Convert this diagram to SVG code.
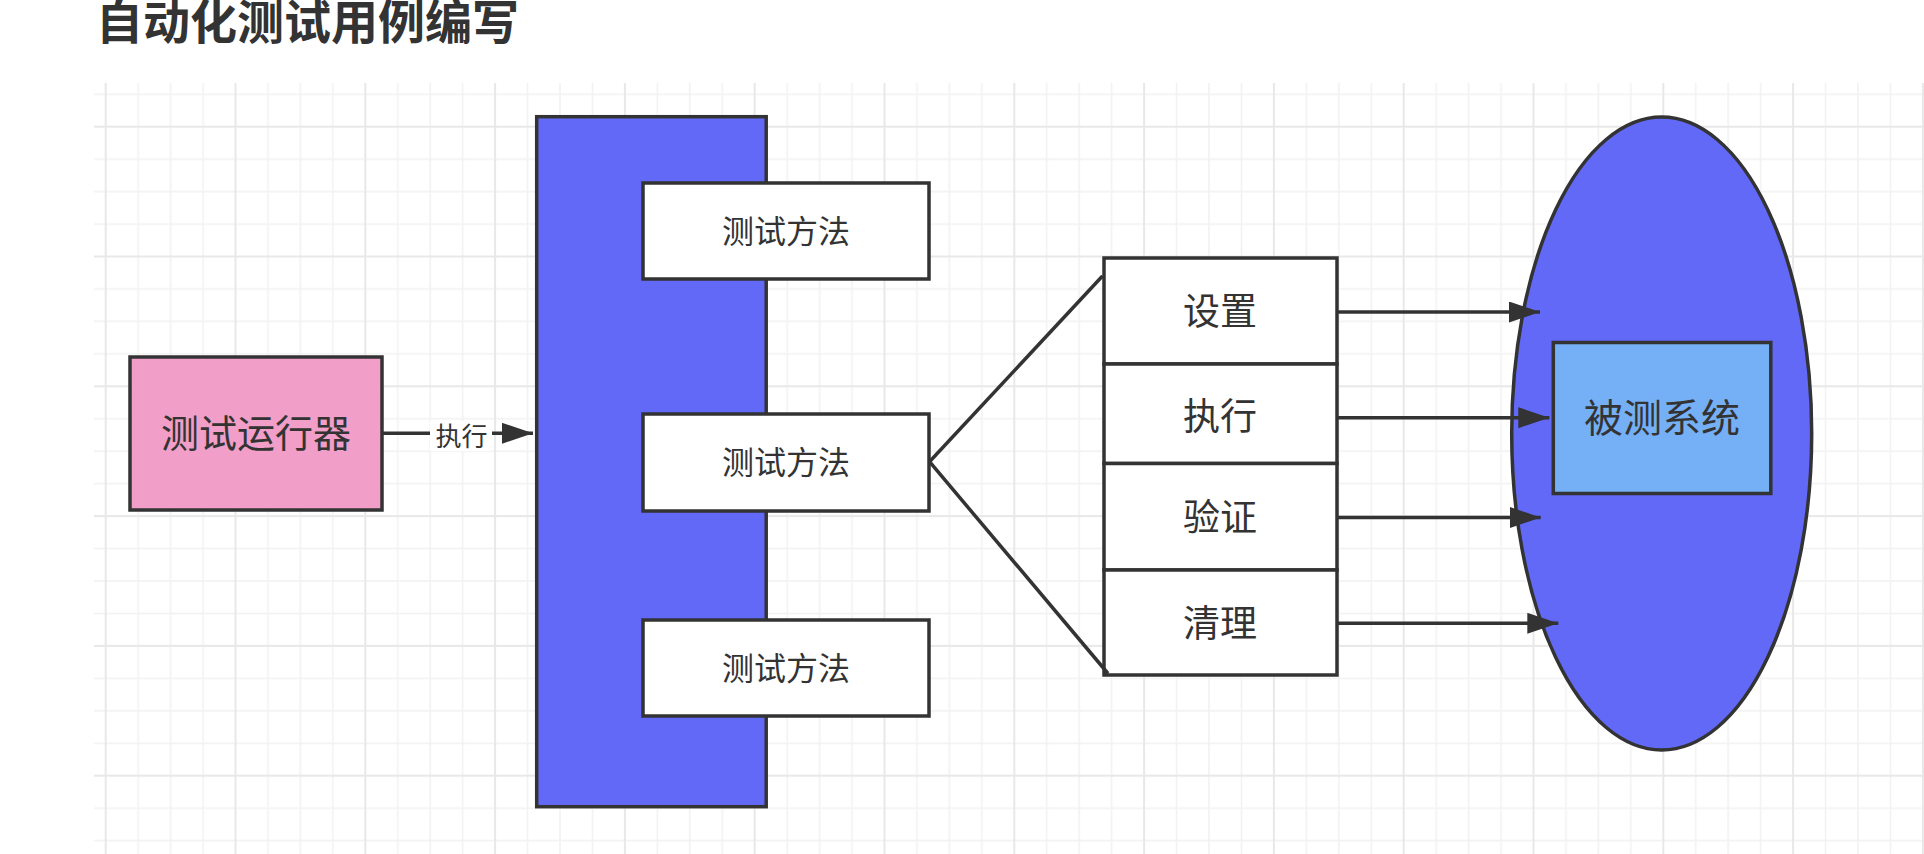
<svg xmlns="http://www.w3.org/2000/svg" width="1924" height="854" viewBox="0 0 1924 854">
<style>
.t{font-family:"Noto Sans CJK SC","Noto Sans",sans-serif;fill:#333;text-anchor:middle}
.box{stroke:#333;stroke-width:3.5}
.ln{stroke:#333;stroke-width:3.5;fill:none}
</style>
<defs>
<pattern id="grid" patternUnits="userSpaceOnUse" x="104.7" y="125.7" width="129.8" height="129.8">
<g fill="#f2f2f2">
<rect x="32.7" y="0" width="1.6" height="129.8"/>
<rect x="65.1" y="0" width="1.6" height="129.8"/>
<rect x="97.6" y="0" width="1.6" height="129.8"/>
<rect x="0" y="32.7" width="129.8" height="1.6"/>
<rect x="0" y="65.1" width="129.8" height="1.6"/>
<rect x="0" y="97.6" width="129.8" height="1.6"/>
</g>
<g fill="#e8e8e8">
<rect x="0" y="0" width="2" height="129.8"/>
<rect x="0" y="0" width="129.8" height="2"/>
</g>
</pattern>
<marker id="ah" markerUnits="userSpaceOnUse" markerWidth="32" markerHeight="22" refX="31" refY="10.5" orient="auto">
<path d="M0,0 L31,10.5 L0,21 Z" fill="#333"/>
</marker>
</defs>
<rect width="1924" height="854" fill="#fff"/>
<rect x="94" y="83" width="1830" height="771" fill="url(#grid)"/>
<text class="t" x="96" y="38.5" style="text-anchor:start;font-weight:bold;font-size:47px">自动化测试用例编写</text>

<g id="runner">
<rect class="box" x="130" y="357" width="252" height="153" fill="#f19ec8"/>
<text class="t" x="256" y="447" font-size="38">测试运行器</text>
</g>

<g id="testclass">
<rect class="box" x="536.7" y="116.7" width="229.5" height="690" fill="#6269f6"/>
</g>
<g id="method1">
<rect class="box" x="643" y="183" width="286" height="96" fill="#fff"/>
<text class="t" x="786" y="243" font-size="32">测试方法</text>
</g>
<g id="method2">
<rect class="box" x="643" y="414" width="286" height="97" fill="#fff"/>
<text class="t" x="786" y="474" font-size="32">测试方法</text>
</g>
<g id="method3">
<rect class="box" x="643" y="620" width="286" height="96" fill="#fff"/>
<text class="t" x="786" y="680" font-size="32">测试方法</text>
</g>

<g id="step-setup">
<rect class="box" x="1104" y="258" width="233" height="106" fill="#fff"/>
<text class="t" x="1220" y="325" font-size="37">设置</text>
</g>
<g id="step-exec">
<rect class="box" x="1104" y="364" width="233" height="99.5" fill="#fff"/>
<text class="t" x="1220" y="430" font-size="37">执行</text>
</g>
<g id="step-verify">
<rect class="box" x="1104" y="463.5" width="233" height="106.5" fill="#fff"/>
<text class="t" x="1220" y="530.5" font-size="37">验证</text>
</g>
<g id="step-cleanup">
<rect class="box" x="1104" y="570" width="233" height="105" fill="#fff"/>
<text class="t" x="1220" y="637" font-size="37">清理</text>
</g>

<g id="sut-env">
<ellipse class="box" cx="1661.7" cy="433.5" rx="150" ry="316.5" fill="#6269f6"/>
</g>
<g id="sut">
<rect class="box" x="1553.3" y="342.5" width="217.5" height="151" fill="#75aff5"/>
<text class="t" x="1662" y="432" font-size="39">被测系统</text>
</g>

<g id="connectors">
<line class="ln" x1="382" y1="433.3" x2="533" y2="433.3" marker-end="url(#ah)"/>
<rect x="430" y="421" width="62" height="30" fill="#fff"/>
<text class="t" x="461.5" y="446" font-size="26">执行</text>
<line class="ln" x1="929.5" y1="461.7" x2="1102.5" y2="276"/>
<line class="ln" x1="929.5" y1="461.7" x2="1108" y2="673.5"/>
<line class="ln" x1="1337" y1="312" x2="1540" y2="312" marker-end="url(#ah)"/>
<line class="ln" x1="1337" y1="417.7" x2="1549.3" y2="417.7" marker-end="url(#ah)"/>
<line class="ln" x1="1337" y1="517.5" x2="1540.7" y2="517.5" marker-end="url(#ah)"/>
<line class="ln" x1="1337" y1="623.3" x2="1558.3" y2="623.3" marker-end="url(#ah)"/>
</g>
</svg>
